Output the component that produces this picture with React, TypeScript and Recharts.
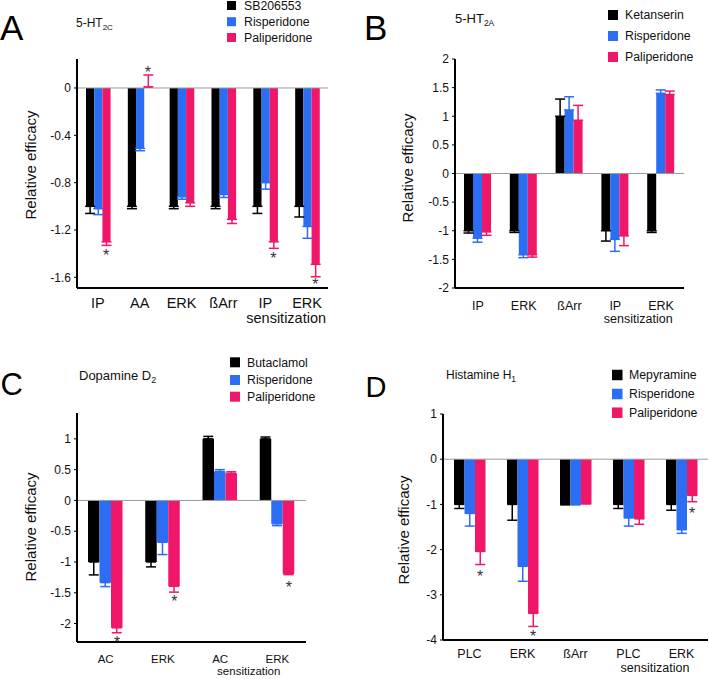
import React from 'react';
import { ComposedChart, Bar, XAxis, YAxis, ReferenceLine, ErrorBar, Scatter } from 'recharts';

const FONT = '"Liberation Sans", Arial, Helvetica, sans-serif';
const COLORS = ['#000000', '#2b6ef4', '#f0166a'];

// Panel A - 5-HT2C
const catsA = ['IP', 'AA', 'ERK', 'ßArr', 'IP', 'ERK'];
const namesA = ['SB206553', 'Risperidone', 'Paliperidone'];
const blackA = [-1, -1, -1, -1, -1, -1];
const blackErrA = [0.06, 0.02, 0.02, 0.02, 0.06, 0.09];
const blueA = [-1.02, -0.51, -0.92, -0.9, -0.8, -1.17];
const blueErrA = [0.05, 0.02, 0.02, 0.025, 0.055, 0.1];
const pinkA = [-1.3, 0.01, -0.97, -1.11, -1.3, -1.49];
const pinkErrA = [0.03, 0.1, 0.03, 0.035, 0.055, 0.105];
const starsA = [-1.38, 0.16, null, null, -1.41, -1.63];
const ticksA = [0, -0.4, -0.8, -1.2, -1.6];

// Panel B - 5-HT2A
const catsB = ['IP', 'ERK', 'ßArr', 'IP', 'ERK'];
const namesB = ['Ketanserin', 'Risperidone', 'Paliperidone'];
const blackB = [-1, -1, 1, -1, -1];
const blackErrB = [0.04, 0.03, 0.3, 0.18, 0.03];
const blueB = [-1.13, -1.42, 1.11, -1.15, 1.4];
const blueErrB = [0.07, 0.05, 0.23, 0.21, 0.06];
const pinkB = [-1.02, -1.42, 0.93, -1.09, 1.38];
const pinkErrB = [0.06, 0.04, 0.26, 0.17, 0.06];
const starsB = [null, null, null, null, null];
const ticksB = [2, 1.5, 1, 0.5, 0, -0.5, -1, -1.5, -2];

// Panel C - Dopamine D2
const catsC = ['AC', 'ERK', 'AC', 'ERK'];
const namesC = ['Butaclamol', 'Risperidone', 'Paliperidone'];
const blackC = [-1, -1, 1, 1];
const blackErrC = [0.21, 0.08, 0.04, 0.03];
const blueC = [-1.335, -0.68, 0.47, -0.38];
const blueErrC = [0.065, 0.2, 0.03, 0.03];
const pinkC = [-2.07, -1.395, 0.44, -1.19];
const pinkErrC = [0.08, 0.095, 0.025, 0.015];
const starsC = [-2.24, -1.58, null, -1.35];
const ticksC = [1, 0.5, 0, -0.5, -1, -1.5, -2];

// Panel D - Histamine H1
const catsD = ['PLC', 'ERK', 'ßArr', 'PLC', 'ERK'];
const namesD = ['Mepyramine', 'Risperidone', 'Paliperidone'];
const blackD = [-1, -1, -1, -1, -1];
const blackErrD = [0.09, 0.35, 0.01, 0.09, 0.13];
const blueD = [-1.2, -2.37, -1.0, -1.3, -1.56];
const blueErrD = [0.28, 0.33, 0.01, 0.18, 0.08];
const pinkD = [-2.04, -3.41, -0.98, -1.32, -0.8];
const pinkErrD = [0.29, 0.29, 0.01, 0.12, 0.14];
const starsD = [-2.52, -3.85, null, null, -1.11];
const ticksD = [1, 0, -1, -2, -3, -4];

// one sided error: away from zero
const oneSided = (v: number, e: number) => (v < 0 ? [e, 0] : [0, e]);

type Cfg = {
  left: number; top: number; width: number; height: number;
  margin: { top: number; right: number; bottom: number; left: number };
  yWidth: number; domain: [number, number]; ticks: number[];
  cats: string[]; values: number[][]; errors: number[][]; stars: (number | null)[];
  barSize: number; xFont: number; line1: number; line2: number;
  yLabelX: number; yLabelY: number;
};

const panels: Cfg[] = [
  {
    left: 0, top: 0, width: 340, height: 330,
    margin: { top: 59, right: 12, bottom: 6, left: 0 },
    yWidth: 77, domain: [-1.69, 0.245], ticks: ticksA,
    cats: catsA, values: [blackA, blueA, pinkA], errors: [blackErrA, blueErrA, pinkErrA], stars: starsA,
    barSize: 8.2, xFont: 14.5, line1: 20, line2: 35, yLabelX: 35.5, yLabelY: 165,
  },
  {
    left: 360, top: 0, width: 349, height: 330,
    margin: { top: 59, right: 25, bottom: 6, left: 0 },
    yWidth: 95, domain: [-2, 2], ticks: ticksB,
    cats: catsB, values: [blackB, blueB, pinkB], errors: [blackErrB, blueErrB, pinkErrB], stars: starsB,
    barSize: 9, xFont: 12.5, line1: 22, line2: 35, yLabelX: 53, yLabelY: 168,
  },
  {
    left: 0, top: 330, width: 340, height: 349,
    margin: { top: 83, right: 34, bottom: 1, left: 0 },
    yWidth: 77, domain: [-2.3, 1.42], ticks: ticksC,
    cats: catsC, values: [blackC, blueC, pinkC], errors: [blackErrC, blueErrC, pinkErrC], stars: starsC,
    barSize: 11.5, xFont: 11.5, line1: 21, line2: 33, yLabelX: 35.5, yLabelY: 197,
  },
  {
    left: 360, top: 330, width: 349, height: 349,
    margin: { top: 84, right: 1, bottom: 3, left: 0 },
    yWidth: 83, domain: [-4, 1], ticks: ticksD,
    cats: catsD, values: [blackD, blueD, pinkD], errors: [blackErrD, blueErrD, pinkErrD], stars: starsD,
    barSize: 10.5, xFont: 12.5, line1: 18, line2: 32, yLabelX: 48.5, yLabelY: 200,
  },
];

function Panel({ cfg }: { cfg: Cfg }) {
  const n = cfg.cats.length;
  const rows = cfg.cats.map((c, i) => ({
    cat: c,
    s0: cfg.values[0][i], e0: oneSided(cfg.values[0][i], cfg.errors[0][i]),
    s1: cfg.values[1][i], e1: oneSided(cfg.values[1][i], cfg.errors[1][i]),
    s2: cfg.values[2][i], e2: oneSided(cfg.values[2][i], cfg.errors[2][i]),
    star: cfg.stars[i],
  }));
  const plotW = cfg.width - cfg.margin.left - cfg.margin.right - cfg.yWidth;
  const band = plotW / n;
  const sepTicks = cfg.cats.map((_, i) => i + 1);

  const renderTick = (props: any) => {
    const { x, y, payload, index } = props;
    return (
      <g>
        <text x={x} y={y + cfg.line1} textAnchor="middle" fontSize={cfg.xFont} fill="#111" fontFamily={FONT}>
          {payload.value}
        </text>
        {index === n - 2 && (
          <text x={x + band / 2} y={y + cfg.line2} textAnchor="middle" fontSize={cfg.xFont} fill="#111" fontFamily={FONT}>
            sensitization
          </text>
        )}
      </g>
    );
  };

  // asterisk centred on the paliperidone bar
  const renderStar = (props: any) => {
    const { cx, cy, payload } = props;
    if (!payload || payload.star == null || !isFinite(cy)) return <g />;
    return (
      <text x={cx + cfg.barSize} y={cy + 9.2} textAnchor="middle" fontSize={16} fill="#333" fontFamily={FONT}>
        *
      </text>
    );
  };

  return (
    <div style={{ position: 'absolute', left: cfg.left, top: cfg.top }}>
      <ComposedChart width={cfg.width} height={cfg.height} data={rows} margin={cfg.margin} barGap={0} barSize={cfg.barSize}>
        <XAxis
          dataKey="cat"
          interval={0}
          height={36}
          tickLine={false}
          tickSize={0}
          tickMargin={0}
          axisLine={{ stroke: '#000', strokeWidth: 2 }}
          tick={renderTick}
        />
        <XAxis
          xAxisId="sep"
          type="number"
          domain={[0, n]}
          ticks={sepTicks}
          allowDataOverflow
          orientation="bottom"
          mirror
          height={10}
          axisLine={false}
          tick={false}
          tickSize={4}
          tickLine={{ stroke: '#000', strokeWidth: 1 }}
        />
        <YAxis
          width={cfg.yWidth}
          domain={cfg.domain}
          ticks={cfg.ticks}
          allowDataOverflow
          interval={0}
          tickSize={3}
          tickMargin={3}
          axisLine={{ stroke: '#000', strokeWidth: 2 }}
          tickLine={{ stroke: '#000', strokeWidth: 1 }}
          tick={{ fontSize: 12, fill: '#111', fontFamily: FONT }}
          label={{
            value: 'Relative efficacy',
            content: () => (
              <text
                x={cfg.yLabelX}
                y={cfg.yLabelY}
                transform={`rotate(-90 ${cfg.yLabelX} ${cfg.yLabelY})`}
                textAnchor="middle"
                fontSize={15}
                fill="#111"
                fontFamily={FONT}
              >
                Relative efficacy
              </text>
            ),
          }}
        />
        <ReferenceLine y={0} stroke="#9a9a9a" strokeWidth={1} />
        {[0, 1, 2].map((k) => (
          <Bar key={k} dataKey={`s${k}`} fill={COLORS[k]} isAnimationActive={false}>
            <ErrorBar dataKey={`e${k}`} width={5} stroke={COLORS[k]} strokeWidth={1.5} />
          </Bar>
        ))}
        <Scatter dataKey="star" shape={renderStar} isAnimationActive={false} />
      </ComposedChart>
    </div>
  );
}

type Legend = { names: string[]; x: number; cy: number[]; size: number; textX: number };
const legends: Legend[] = [
  { names: namesA, x: 227, cy: [5.5, 21.7, 37.5], size: 9, textX: 244 },
  { names: namesB, x: 608, cy: [15, 36, 57], size: 10, textX: 625 },
  { names: namesC, x: 230, cy: [362.3, 380, 396.7], size: 10, textX: 247 },
  { names: namesD, x: 612, cy: [375, 394, 412.7], size: 10.5, textX: 629 },
];

export default function App() {
  return (
    <div style={{ position: 'absolute', left: 0, top: 0, width: 709, height: 679, background: '#fff' }}>
      {panels.map((p, i) => (
        <Panel key={i} cfg={p} />
      ))}
      <svg width={709} height={679} style={{ position: 'absolute', left: 0, top: 0, pointerEvents: 'none' }} fontFamily={FONT}>
        <text x={0} y={40} fontSize={35} fill="#000">A</text>
        <text x={364} y={40} fontSize={35} fill="#000">B</text>
        <text x={0.5} y={395} fontSize={31} fill="#000">C</text>
        <text x={365.5} y={397} fontSize={29} fill="#000">D</text>

        <text x={76} y={26.7} fontSize={12} fill="#111">
          5-HT<tspan fontSize={8} dy={3}>2C</tspan>
        </text>
        <text x={455} y={23.3} fontSize={13} fill="#111">
          5-HT<tspan fontSize={8.5} dy={3}>2A</tspan>
        </text>
        <text x={79} y={380} fontSize={13} fill="#111">
          Dopamine D<tspan fontSize={9} dy={3}>2</tspan>
        </text>
        <text x={446} y={379} fontSize={12} fill="#111">
          Histamine H<tspan fontSize={8.5} dy={3}>1</tspan>
        </text>

        {legends.map((lg, li) => (
          <g key={li}>
            {lg.names.map((name, k) => (
              <g key={k}>
                <rect x={lg.x} y={lg.cy[k] - lg.size / 2} width={lg.size} height={lg.size} fill={COLORS[k]} />
                <text x={lg.textX} y={lg.cy[k] + 4.4} fontSize={12.3} fill="#111">
                  {name}
                </text>
              </g>
            ))}
          </g>
        ))}
      </svg>
    </div>
  );
}
